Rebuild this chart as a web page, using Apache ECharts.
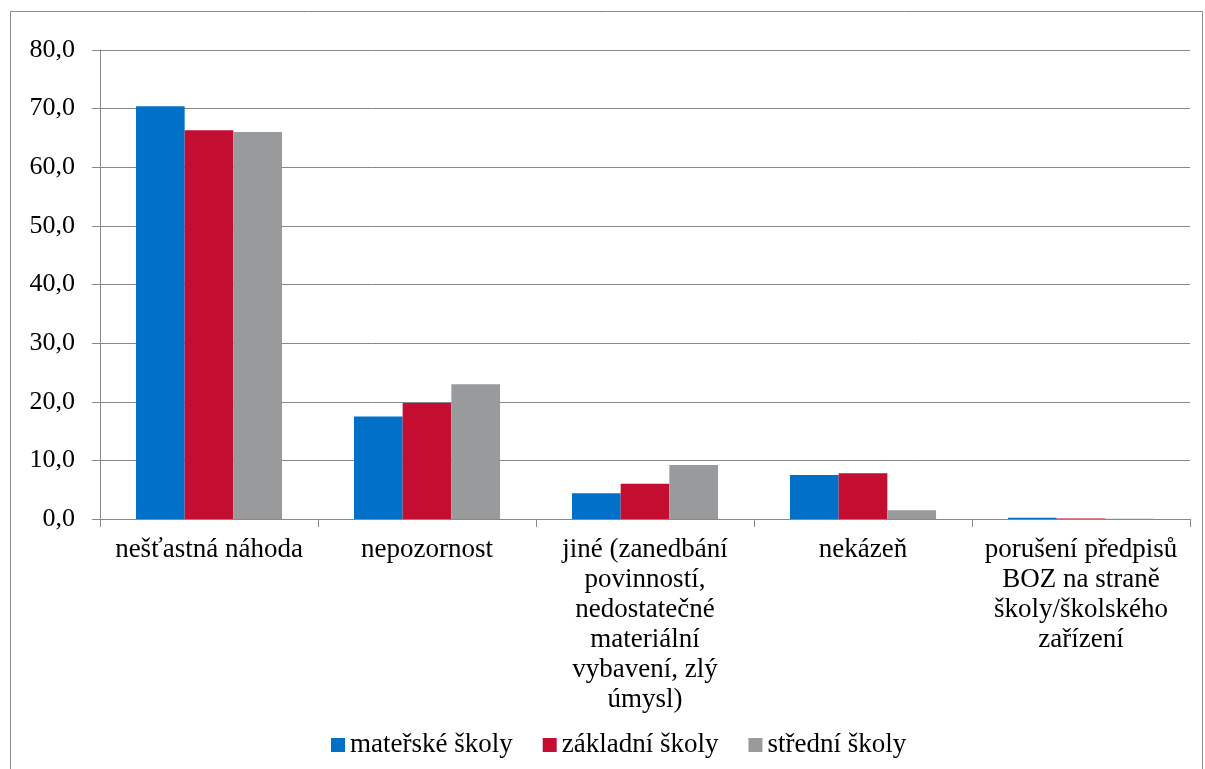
<!DOCTYPE html>
<html><head><meta charset="utf-8">
<script src="https://cdn.jsdelivr.net/npm/echarts@6/dist/echarts.min.js"></script>
<style>html,body{margin:0;padding:0;background:#fff}#c{width:1205px;height:769px}</style>
</head><body><div id="c"></div>
<script>
const categories = ["nešťastná náhoda", "nepozornost", "jiné (zanedbání\npovinností,\nnedostatečné\nmateriální\nvybavení, zlý\númysl)", "nekázeň", "porušení předpisů\nBOZ na straně\nškoly/školského\nzařízení"];
const seriesNames = ["mateřské školy", "základní školy", "střední školy"];
const materske = [70.4, 17.5, 4.4, 7.5, 0.2];
const zakladni = [66.3, 19.8, 6.0, 7.8, 0.1];
const stredni = [66.0, 23.0, 9.2, 1.5, 0.05];
const yTicks = [0, 10, 20, 30, 40, 50, 60, 70, 80];
const colors = ["#0070C9", "#C30D31", "#999A9C"];

const chart = echarts.init(document.getElementById('c'));
const font = '"Liberation Serif", "Times New Roman", serif';
const mk = (name, data, i) => ({
  name, type: 'bar', data, barGap: '0%', barCategoryGap: '33%',
  itemStyle: { color: colors[i] }
});
chart.setOption({
  animation: false,
  textStyle: { fontFamily: font },
  graphic: [{ type: 'rect', shape: { x: 10.5, y: 11.5, width: 1192, height: 770 }, style: { fill: 'none', stroke: '#8c8c8c', lineWidth: 1 }, silent: true }],
  grid: { left: 100, right: 15, top: 50, bottom: 250 },
  legend: {
    top: 725, left: 326, itemWidth: 14, itemHeight: 14, itemGap: 30, icon: 'rect',
    textStyle: { fontFamily: font, fontSize: 27, lineHeight: 30, color: '#000' },
    data: seriesNames
  },
  xAxis: {
    type: 'category', data: categories,
    axisLine: { lineStyle: { color: '#888' } },
    axisTick: { show: true, length: 8, lineStyle: { color: '#888' } },
    axisLabel: { fontFamily: font, fontSize: 27, color: '#000', lineHeight: 30, margin: 16, interval: 0 }
  },
  yAxis: {
    type: 'value', min: 0, max: 80, interval: 10,
    axisLine: { show: true, lineStyle: { color: '#888' } },
    axisTick: { show: true, length: 8, lineStyle: { color: '#888' } },
    splitLine: { lineStyle: { color: '#888' } },
    axisLabel: { fontFamily: font, fontSize: 26, color: '#000', margin: 25,
      formatter: v => yTicks.includes(v) ? v.toFixed(1).replace('.', ',') : '' }
  },
  series: [mk(seriesNames[0], materske, 0), mk(seriesNames[1], zakladni, 1), mk(seriesNames[2], stredni, 2)]
});
</script></body></html>
